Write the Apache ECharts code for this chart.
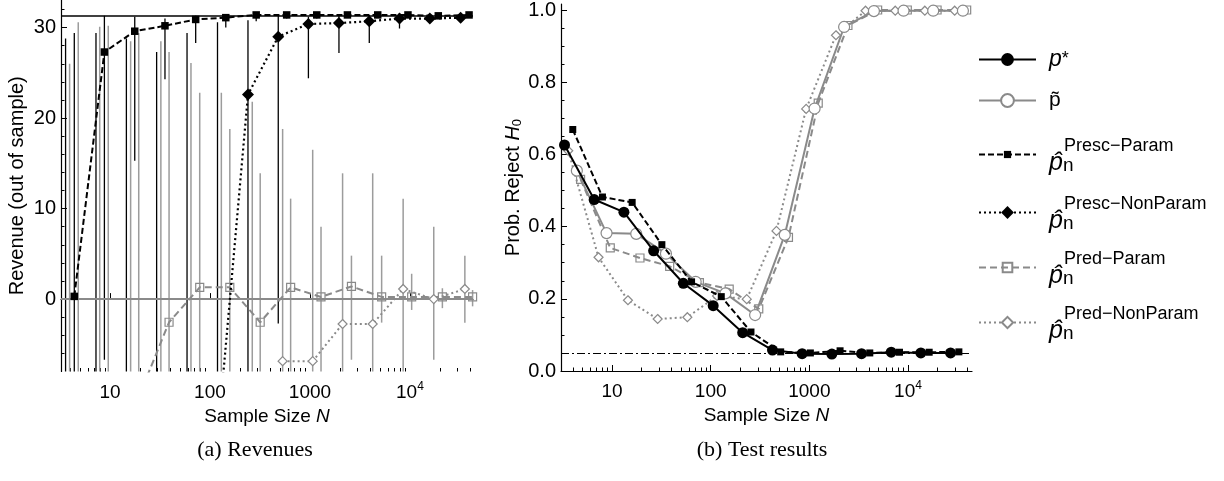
<!DOCTYPE html>
<html><head><meta charset="utf-8">
<script src="https://cdn.jsdelivr.net/npm/echarts@6/dist/echarts.min.js"></script>
<style>html,body{margin:0;padding:0;background:#fff;}#c{width:1224px;height:481px;}</style>
</head><body><div id="c"></div>
<script>
// ---------------- data ----------------
const xTickValues = [10, 100, 1000, 10000];
const xMinorTickValues = [4,5,6,7,8,9,20,30,40,50,60,70,80,90,200,300,400,500,600,700,800,900,
  2000,3000,4000,5000,6000,7000,8000,9000,20000,30000,40000];
const revTickValues = [0, 10, 20, 30];
const rejTickValues = [0, 0.2, 0.4, 0.6, 0.8, 1.0];

// (a) Revenues
const revPstar = 31.3;
const revPtilde = 0;
const nRevPrescParam = [4.4, 8.8, 17.7, 35.5, 72, 144, 290, 585, 1170, 2370, 4760, 9550, 19200, 39000];
const revPrescParam = [0.3, 27.3, 29.6, 30.2, 30.9, 31.1, 31.4, 31.4, 31.4, 31.4, 31.4, 31.4, 31.3, 31.4];
const revPrescParamLo = [-40, -6.7, 15.3, 24.3, 28.3, 30.0, 30.7, 31.0, 31.0, 31.1, 31.1, 31.2, 31.2, 31.2];
const revPrescParamHi = [29.4, 31.3, 31.2, 31.0, 31.3, 31.4, 31.6, 31.5, 31.5, 31.5, 31.5, 31.5, 31.5, 31.5];
const nRevPrescNonParam = [3.6, 7.25, 14.6, 29.3, 59, 119, 240, 482, 965, 1950, 3920, 7860, 15800, 32100];
const revPrescNonParam = [null, null, null, null, null, -15.5, 22.6, 29.0, 30.4, 30.5, 30.7, 31.0, 31.0, 31.1];
const revPrescNonParamLo = [-40, -40, -40, -40, -40, -40, -40, -2.7, 24.4, 27.2, 28.3, 29.9, 30.8, 30.9];
const revPrescNonParamHi = [28.8, 29.4, 28.8, 27.3, 29.4, 30.6, 30.8, 31.3, 31.2, 31.4, 31.4, 31.6, 31.5, 31.5];
const nRevPredParam = [4.82, 9.62, 19.4, 39, 79, 158, 318, 641, 1290, 2600, 5210, 10400, 21100, 42300];
const revPredParam = [null, null, -10.8, -2.56, 1.3, 1.3, -2.56, 1.3, 0.24, 1.4, 0.24, 0.24, 0.24, 0.24];
const revPredParamLo = [-40, -40, -40, -40, -40, -40, -40, -40, -40, -6.7, -2.6, -1.2, -1.0, -0.8];
const revPredParamHi = [30.6, 30.2, 29.4, 27.3, 22.8, 18.8, 13.9, 11.1, 8.0, 4.8, 4.8, 2.8, 1.2, 1.0];
const nRevPredNonParam = [3.95, 7.9, 16.1, 32.3, 64.6, 130, 265, 533, 1065, 2120, 4240, 8550, 17300, 35400];
const revPredNonParam = [null, null, null, null, null, null, null, -6.86, -6.86, -2.75, -2.75, 1.12, 0.0, 1.12];
const revPredNonParamLo = [-40, -40, -40, -40, -40, -40, -40, -40, -40, -40, -40, -40, -6.7, -2.6];
const revPredNonParamHi = [26.0, 30.1, 28.5, 28.5, 26.1, 22.8, 21.8, 18.8, 16.5, 13.9, 13.9, 11.1, 8.0, 4.8];

// (b) Test results
const rejLevel = 0.05;
const nRejPstar = [3.3, 6.6, 13.2, 26.4, 52.8, 106, 211, 423, 845, 1690, 3380, 6760, 13500, 27000];
const rejPstar = [0.626, 0.475, 0.44, 0.333, 0.243, 0.181, 0.106, 0.058, 0.048, 0.047, 0.048, 0.052, 0.05, 0.05];
const nRejPrescParam = [4, 8, 16, 32, 64, 128, 256, 512, 1024, 2048, 4096, 8192, 16384, 32768];
const rejPrescParam = [0.669, 0.482, 0.467, 0.35, 0.247, 0.206, 0.108, 0.053, 0.05, 0.056, 0.05, 0.052, 0.052, 0.053];
const nRejPtilde = [4.4, 8.8, 17.6, 35.2, 70.4, 141, 282, 563, 1130, 2250, 4510, 9010, 18000, 36000];
const rejPtilde = [0.555, 0.382, 0.38, 0.325, 0.247, 0.215, 0.155, 0.377, 0.727, 0.953, 0.997, 0.998, 0.998, 0.998];
const nRejPredParam = [4.8, 9.6, 19.2, 38.4, 76.8, 154, 307, 614, 1230, 2460, 4920, 9830, 19700, 39300];
const rejPredParam = [0.531, 0.341, 0.313, 0.29, 0.245, 0.227, 0.172, 0.37, 0.742, 0.957, 1.0, 1.0, 1.0, 1.0];
const nRejPredNonParam = [3.6, 7.3, 14.5, 29, 58, 116, 232, 464, 928, 1860, 3710, 7420, 14800, 29700];
const rejPredNonParam = [0.61, 0.315, 0.196, 0.144, 0.149, 0.208, 0.199, 0.388, 0.726, 0.93, 0.998, 0.998, 0.998, 0.998];

// ---------------- chart ----------------
const FONT = '"Liberation Sans", Arial, sans-serif';
const SERIF = '"Liberation Serif", "Times New Roman", serif';
const GREY = '#8a8a8a';
const GREY_BAR = '#9c9c9c';
const pairs = (xs, ys) => xs.map((x, i) => [x, ys[i]]);
const triples = (xs, lo, hi) => xs.map((x, i) => [x, lo[i], hi[i]]);

function xMajor(grid, min, max) {
  return {
    type: 'log', logBase: 10, gridIndex: grid, min, max, position: 'bottom',
    axisLine: {show: true, lineStyle: {color: '#000', width: 1.2}},
    axisTick: {show: true, inside: true, length: 6, customValues: xTickValues, lineStyle: {color: '#000', width: 1}},
    minorTick: {show: false}, splitLine: {show: false},
    axisLabel: {
      customValues: xTickValues, margin: 10, color: '#000', fontFamily: FONT, fontSize: 19,
      formatter: v => (Math.round(v) === 10000 ? '{n|10}{sup|4}' : '{n|' + Math.round(v) + '}'),
      rich: {n: {fontFamily: FONT, fontSize: 19, lineHeight: 22, color: '#000'},
             sup: {fontFamily: FONT, fontSize: 12, verticalAlign: 'top', height: 10, lineHeight: 10, color: '#000'}}
    },
    name: 'Sample Size {i|N}', nameLocation: 'middle', nameGap: 29,
    nameTextStyle: {color: '#000', fontFamily: FONT, fontSize: 19,
      rich: {i: {fontFamily: FONT, fontSize: 19, fontStyle: 'italic', color: '#000'}}}
  };
}
function xMinor(grid, min, max) {
  return {
    type: 'log', logBase: 10, gridIndex: grid, min, max, position: 'bottom',
    axisLine: {show: false}, axisLabel: {show: false}, splitLine: {show: false},
    axisTick: {show: true, inside: true, length: 3.5, customValues: xMinorTickValues, lineStyle: {color: '#000', width: 1}}
  };
}
function errorBars(data, color, width) {
  return {
    type: 'custom', xAxisIndex: 0, yAxisIndex: 0, silent: true, z: 1, data,
    encode: {x: 0, y: [1, 2]},
    renderItem(params, api) {
      const cs = params.coordSys;
      const p1 = api.coord([api.value(0), api.value(1)]);
      const p2 = api.coord([api.value(0), api.value(2)]);
      const clamp = y => Math.min(cs.y + cs.height, Math.max(cs.y, y));
      return {type: 'line', shape: {x1: p1[0], y1: clamp(p1[1]), x2: p1[0], y2: clamp(p2[1])},
              style: {stroke: color, lineWidth: width}};
    }
  };
}

const legendText = {
  pstar: '{ip|p}{st|*}',
  ptilde: '{up|p\u0303}',
  prescParam: '{sp| }{sup|Presc\u2212Param}\n{hp|p\u0302}{sub|n}',
  prescNonParam: '{sp| }{sup|Presc\u2212NonParam}\n{hp|p\u0302}{sub|n}',
  predParam: '{sp| }{sup|Pred\u2212Param}\n{hp|p\u0302}{sub|n}',
  predNonParam: '{sp| }{sup|Pred\u2212NonParam}\n{hp|p\u0302}{sub|n}'
};
const legendRich = {
  ip: {fontFamily: FONT, fontStyle: 'italic', fontSize: 23, lineHeight: 26, color: '#000', padding: [0, 0, 0, 8]},
  st: {fontFamily: FONT, fontSize: 18, lineHeight: 26, color: '#000'},
  up: {fontFamily: FONT, fontSize: 21, lineHeight: 26, color: '#000', padding: [0, 0, 0, 8]},
  sp: {fontFamily: FONT, fontSize: 12, width: 23, lineHeight: 17},
  sup: {fontFamily: FONT, fontSize: 18, lineHeight: 17, color: '#000'},
  hp: {fontFamily: FONT, fontStyle: 'italic', fontSize: 25, lineHeight: 17, color: '#000', padding: [0, 0, 0, 8]},
  sub: {fontFamily: FONT, fontSize: 19, lineHeight: 17, height: 11, verticalAlign: 'bottom', color: '#000'}
};
const legendRows = [
  {name: 'pstar', top: 48, ih: 16},
  {name: 'ptilde', top: 90, ih: 16},
  {name: 'prescParam', top: 137, ih: 9},
  {name: 'prescNonParam', top: 195, ih: 16},
  {name: 'predParam', top: 250, ih: 12},
  {name: 'predNonParam', top: 305, ih: 14}
];

const chart = echarts.init(document.getElementById('c'), null, {renderer: 'canvas'});
chart.setOption({
  animation: false,
  backgroundColor: '#fff',
  title: [
    {text: '(a) Revenues', left: 255, top: 439, textAlign: 'center', padding: 0,
     textStyle: {fontFamily: SERIF, fontSize: 22, fontWeight: 'normal', color: '#000'}},
    {text: '(b) Test results', left: 762, top: 439, textAlign: 'center', padding: 0,
     textStyle: {fontFamily: SERIF, fontSize: 22, fontWeight: 'normal', color: '#000'}}
  ],
  legend: legendRows.map(r => ({
    data: [r.name], left: 978, top: r.top, orient: 'vertical', padding: 0,
    itemWidth: 57, itemHeight: r.ih, selectedMode: false,
    formatter: name => legendText[name],
    textStyle: {color: '#000', fontFamily: FONT, rich: legendRich}
  })),
  grid: [
    {left: 61, top: 0, width: 412, height: 371.5},
    {left: 561, top: 0, width: 411, height: 371}
  ],
  xAxis: [
    xMajor(0, 3.24, 42700), xMinor(0, 3.24, 42700),
    xMajor(1, 3.04, 44500), xMinor(1, 3.04, 44500)
  ],
  yAxis: [
    {type: 'value', gridIndex: 0, min: -8, max: 33.05, splitNumber: 4,
     axisLine: {show: true, lineStyle: {color: '#000', width: 1.2}},
     axisTick: {show: true, inside: true, length: 6, customValues: revTickValues, lineStyle: {color: '#000'}},
     minorTick: {show: true, splitNumber: 5, length: 3.5, lineStyle: {color: '#000'}},
     splitLine: {show: false},
     axisLabel: {customValues: revTickValues, margin: 5, color: '#000', fontFamily: FONT, fontSize: 20},
     name: 'Revenue (out of sample)', nameLocation: 'middle', nameGap: 34,
     nameTextStyle: {color: '#000', fontFamily: FONT, fontSize: 20}},
    {type: 'value', gridIndex: 1, min: 0, max: 1.0164, interval: 0.2,
     axisLine: {show: true, lineStyle: {color: '#000', width: 1.2}},
     axisTick: {show: true, inside: true, length: 6, customValues: rejTickValues, lineStyle: {color: '#000'}},
     minorTick: {show: true, splitNumber: 4, length: 3.5, lineStyle: {color: '#000'}},
     splitLine: {show: false},
     axisLabel: {customValues: rejTickValues, margin: 5, color: '#000', fontFamily: FONT, fontSize: 20,
                 formatter: v => v.toFixed(1)},
     name: 'Prob. Reject {i|H}{sub|0}', nameLocation: 'middle', nameGap: 38,
     nameTextStyle: {color: '#000', fontFamily: FONT, fontSize: 20,
       rich: {i: {fontFamily: FONT, fontSize: 20, fontStyle: 'italic', color: '#000'},
              sub: {fontFamily: FONT, fontSize: 13, verticalAlign: 'bottom', height: 12, color: '#000'}}}}
  ],
  series: [
    // ---- (b) right panel ----
    {name: 'predNonParam', type: 'line', xAxisIndex: 2, yAxisIndex: 1, data: pairs(nRejPredNonParam, rejPredNonParam),
     symbol: 'diamond', symbolSize: 9, z: 3,
     lineStyle: {color: GREY, width: 2, type: [2, 3]},
     itemStyle: {color: '#fff', borderColor: GREY, borderWidth: 1.2}},
    {name: 'predParam', type: 'line', xAxisIndex: 2, yAxisIndex: 1, data: pairs(nRejPredParam, rejPredParam),
     symbol: 'rect', symbolSize: 8, z: 3,
     lineStyle: {color: GREY, width: 2, type: [7, 4]},
     itemStyle: {color: 'rgba(255,255,255,0)', borderColor: GREY, borderWidth: 1.2}},
    {name: 'ptilde', type: 'line', xAxisIndex: 2, yAxisIndex: 1, data: pairs(nRejPtilde, rejPtilde),
     symbol: 'circle', symbolSize: 11, z: 3,
     lineStyle: {color: GREY, width: 2},
     itemStyle: {color: '#fff', borderColor: GREY, borderWidth: 1.2}},
    {name: 'prescParam', type: 'line', xAxisIndex: 2, yAxisIndex: 1, data: pairs(nRejPrescParam, rejPrescParam),
     symbol: 'rect', symbolSize: 7, z: 4,
     lineStyle: {color: '#000', width: 2, type: [6, 3]},
     itemStyle: {color: '#000'}},
    {name: 'pstar', type: 'line', xAxisIndex: 2, yAxisIndex: 1, data: pairs(nRejPstar, rejPstar),
     symbol: 'circle', symbolSize: 11, z: 5,
     lineStyle: {color: '#000', width: 2},
     itemStyle: {color: '#000'},
     markLine: {silent: true, symbol: 'none', label: {show: false},
       lineStyle: {color: '#000', width: 1, type: [8, 3, 2, 3]},
       data: [{yAxis: rejLevel}]}},
    // ---- (a) left panel ----
    errorBars(triples(nRevPredParam, revPredParamLo, revPredParamHi), GREY_BAR, 1.5),
    errorBars(triples(nRevPredNonParam, revPredNonParamLo, revPredNonParamHi), GREY_BAR, 1.5),
    errorBars(triples(nRevPrescParam, revPrescParamLo, revPrescParamHi), '#000', 1.3),
    errorBars(triples(nRevPrescNonParam, revPrescNonParamLo, revPrescNonParamHi), '#000', 1.3),
    {name: 'predParam', type: 'line', xAxisIndex: 0, yAxisIndex: 0, data: pairs(nRevPredParam, revPredParam),
     symbol: 'rect', symbolSize: 8, z: 3,
     lineStyle: {color: GREY, width: 2, type: [7, 4]},
     itemStyle: {color: 'rgba(255,255,255,0)', borderColor: GREY, borderWidth: 1.2}},
    {name: 'predNonParam', type: 'line', xAxisIndex: 0, yAxisIndex: 0, data: pairs(nRevPredNonParam, revPredNonParam),
     symbol: 'diamond', symbolSize: 9, z: 3,
     lineStyle: {color: GREY, width: 2, type: [2, 3]},
     itemStyle: {color: '#fff', borderColor: GREY, borderWidth: 1.2}},
    {name: 'prescParam', type: 'line', xAxisIndex: 0, yAxisIndex: 0, data: pairs(nRevPrescParam, revPrescParam),
     symbol: 'rect', symbolSize: 7.5, z: 4,
     lineStyle: {color: '#000', width: 2, type: [6, 3]},
     itemStyle: {color: '#000'},
     markLine: {silent: true, symbol: 'none', label: {show: false}, z: 2,
       data: [
         {yAxis: revPstar, lineStyle: {color: '#000', width: 1.5, type: 'solid'}},
         {yAxis: revPtilde, lineStyle: {color: GREY, width: 2, type: 'solid'}}
       ]}},
    {name: 'prescNonParam', type: 'line', xAxisIndex: 0, yAxisIndex: 0, data: pairs(nRevPrescNonParam, revPrescNonParam),
     symbol: 'diamond', symbolSize: 12, z: 4,
     lineStyle: {color: '#000', width: 2.2, type: [2, 3]},
     itemStyle: {color: '#000'}}
  ]
});
</script>
</body></html>
